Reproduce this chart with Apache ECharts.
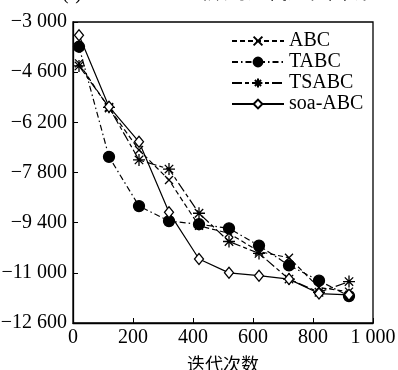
<!DOCTYPE html>
<html>
<head>
<meta charset="utf-8">
<script src="https://cdn.jsdelivr.net/npm/echarts@6/dist/echarts.min.js"></script>
<style>html,body{margin:0;padding:0;background:#fff}#c{width:398px;height:370px}</style>
</head>
<body>
<div id="c"></div>
<script>
const iterations = [20, 120, 220, 320, 420, 520, 620, 720, 820, 920];
const seriesNames = ['ABC', 'TABC', 'TSABC', 'soa-ABC'];
const abcValues   = [-4320, -5750, -7080, -8040, -9500, -9740, -10320, -10520, -11470, -11600];
const tabcValues  = [-3790, -7300, -8870, -9350, -9450, -9580, -10130, -10760, -11250, -11740];
const tsabcValues = [-4400, -5720, -7400, -7690, -9100, -10000, -10380, -11200, -11620, -11280];
const soaValues   = [-3420, -5700, -6820, -9070, -10560, -11000, -11090, -11200, -11660, -11700];
const xTicks = [0, 200, 400, 600, 800, 1000];
const yTicks = [-12600, -11000, -9400, -7800, -6200, -4600, -3000];
const xAxisName = '迭代次数';
const titleText = '(f) Rosenbrock 函数的迭代过程曲线';

const serif = '"Liberation Serif","DejaVu Serif","Noto Sans CJK SC",serif';
function fmt(v) {
  const neg = v < 0;
  let s = String(Math.abs(v));
  if (s.length > 3) s = s.slice(0, s.length - 3) + ' ' + s.slice(s.length - 3);
  return (neg ? '\u2212' : '') + s;
}
const allVals = [abcValues, tabcValues, tsabcValues, soaValues];
const symbols = [
  'path://M0,0L10,10M10,0L0,10',
  'circle',
  'path://M5,0L5,10M0,5L10,5M1.5,1.5L8.5,8.5M8.5,1.5L1.5,8.5',
  'diamond'
];
const symSizes = [8, 11, 12, [9, 11]];
const fills = ['#000', '#000', '#000', '#fff'];
const dashes = [[5, 3], [6, 3, 1.5, 3], [10, 3, 4, 3], 'solid'];

const chart = echarts.init(document.getElementById('c'), null, {renderer: 'canvas'});
chart.setOption({
  animation: false,
  backgroundColor: '#fff',
  graphic: [{
    type: 'text', left: 62, top: -16,
    style: {text: titleText, font: '20px ' + serif, fill: '#000'}
  }],
  grid: {left: 73, right: 25, top: 22, bottom: 47, show: true, borderColor: '#000', borderWidth: 1.3,
         containLabel: false, outerBoundsMode: 'none'},
  legend: {
    orient: 'vertical', left: 226, top: 26, itemWidth: 52, itemHeight: 11, itemGap: 1,
    textStyle: {fontFamily: serif, fontSize: 20, color: '#000', padding: [0, 0, 0, 0]},
    data: seriesNames
  },
  xAxis: {
    type: 'value', min: 0, max: 1000, interval: 200,
    name: xAxisName, nameLocation: 'middle', nameGap: 32,
    nameTextStyle: {fontFamily: '"Noto Sans CJK SC",' + serif, fontSize: 18, color: '#000'},
    axisLine: {lineStyle: {color: '#000', width: 1.3}},
    axisTick: {inside: true, length: 5, lineStyle: {color: '#000'}},
    axisLabel: {fontFamily: serif, fontSize: 20, color: '#000', margin: 5, formatter: v => xTicks.includes(v) ? fmt(v) : ''},
    splitLine: {show: false}
  },
  yAxis: {
    type: 'value', min: yTicks[0], max: yTicks[yTicks.length - 1], interval: 1600,
    axisLine: {show: true, lineStyle: {color: '#000', width: 1.3}},
    axisTick: {show: true, inside: true, length: 5, lineStyle: {color: '#000'}},
    axisLabel: {fontFamily: serif, fontSize: 20, color: '#000', margin: 6, formatter: v => fmt(v)},
    splitLine: {show: false}
  },
  series: seriesNames.map((n, i) => ({
    name: n, type: 'line',
    data: iterations.map((x, k) => [x, allVals[i][k]]),
    symbol: symbols[i], symbolSize: symSizes[i], showSymbol: true,
    lineStyle: {color: '#000', width: 1.2, type: dashes[i]},
    itemStyle: {color: fills[i], borderColor: '#000', borderWidth: 1.3},
    z: 2 + i
  }))
});
</script>
</body>
</html>
